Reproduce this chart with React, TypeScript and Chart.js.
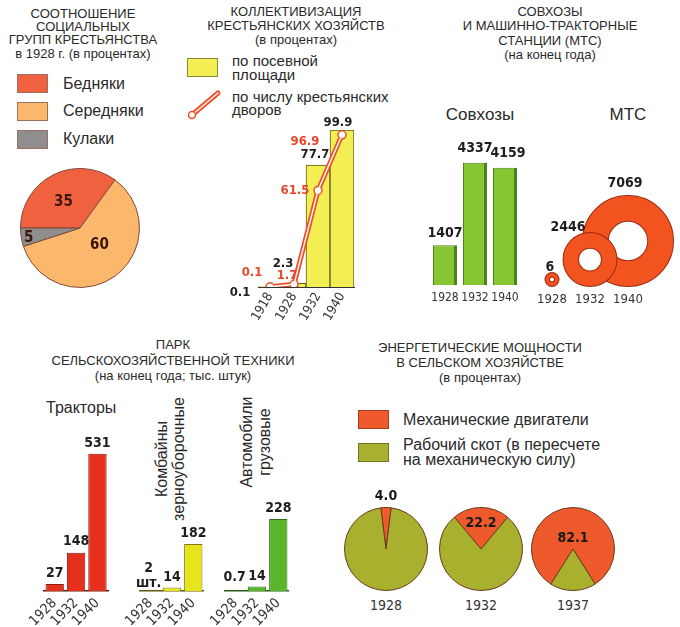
import React, { useEffect, useRef } from 'react';
import { Chart, registerables } from 'chart.js';

Chart.register(...registerables);

const SANS = "'Liberation Sans', Arial, Helvetica, sans-serif";
const NARROW = "'Liberation Sans Narrow', 'Arial Narrow', 'DejaVu Sans Condensed', 'Liberation Sans', sans-serif";

// ---------------- data ----------------
const socialGroups = ['Бедняки', 'Середняки', 'Кулаки'];
const socialShares = [35, 60, 5];

const collSeries = ['по посевной площади', 'по числу крестьянских дворов'];
const collYears = ['1918', '1928', '1932', '1940'];
const collBySownArea = [0.1, 2.3, 77.7, 99.9];
const collByHouseholds = [0.1, 1.7, 61.5, 96.9];

const sovkhozYears = ['1928', '1932', '1940'];
const sovkhozCounts = [1407, 4337, 4159];

const mtsYears = ['1928', '1932', '1940'];
const mtsCounts = [6, 2446, 7069];

const machineYears = ['1928', '1932', '1940'];
const tractors = [27, 148, 531];
const combines = [0.002, 14, 182];
const trucks = [0.7, 14, 228];

const energySeries = ['Механические двигатели', 'Рабочий скот (в пересчете на механическую силу)'];
const energyYears = ['1928', '1932', '1937'];
const energyMechanical = [4.0, 22.2, 82.1];
const energyLivestock = [96.0, 77.8, 17.9];

// ---------------- styles ----------------
const socialColors = ['#f0623f', '#fbb86c', '#8e8e8e'];
const energyColors = ['#ee5a2b', '#a8b02e'];

// ---------------- label plugin ----------------
const labelPlugin = {
  id: 'valueLabels',
  afterDatasetsDraw(chart: any, _a: any, opts: any) {
    const items = (opts && opts.items) || [];
    const ctx = chart.ctx;
    ctx.save();
    ctx.textAlign = 'center';
    ctx.textBaseline = 'middle';
    for (const it of items) {
      const meta = chart.getDatasetMeta(it.ds);
      it.texts.forEach((t: string, i: number) => {
        const el = meta.data[i];
        if (!el || t == null) return;
        let x: number, y: number;
        if (it.mode === 'arc') {
          const p = el.tooltipPosition(false);
          x = p.x; y = p.y;
        } else {
          x = el.x; y = el.y;
        }
        x += it.dx ? it.dx[i] || 0 : 0;
        y += it.dy ? it.dy[i] || 0 : 0;
        ctx.font = it.font;
        ctx.fillStyle = Array.isArray(it.color) ? it.color[i] : it.color;
        const lines = String(t).split('\n');
        const lh = it.lineHeight || 14;
        lines.forEach((ln, k) => ctx.fillText(ln, x, y + (k - (lines.length - 1) / 2) * lh));
      });
    }
    ctx.restore();
  },
};
Chart.register(labelPlugin as any);

const base = (extra: any) => ({
  animation: false,
  responsive: false,
  events: [],
  ...extra,
  plugins: { legend: { display: false }, tooltip: { enabled: false }, ...(extra.plugins || {}) },
});

const noGrid = { display: false, drawTicks: false, tickLength: 0 };

// ---------------- chart configs ----------------
const socialConfig = () => ({
  type: 'pie',
  data: {
    labels: socialGroups,
    datasets: [{ data: socialShares, backgroundColor: socialColors, borderColor: '#80493a', borderWidth: 1 }],
  },
  options: base({
    rotation: 270,
    layout: { padding: 1 },
    plugins: {
      valueLabels: {
        items: [{
          ds: 0, mode: 'arc', texts: socialShares.map(String),
          dx: [-3, 2, -22], dy: [1, -7, 5], font: `bold 15px ${NARROW}`, color: '#3a160c',
        }],
      },
    },
  }),
});

const collConfig = () => ({
  type: 'bar',
  data: {
    labels: collYears,
    datasets: [
      { type: 'line', label: collSeries[1], data: collByHouseholds, borderColor: '#fff4ee', borderWidth: 1.5, pointRadius: 0, order: 0 },
      { type: 'line', label: collSeries[1], data: collByHouseholds, borderColor: '#e9512c', borderWidth: 5, pointRadius: 4, pointBackgroundColor: '#fff', pointBorderColor: '#e9512c', pointBorderWidth: 1.5, order: 1 },
      { type: 'bar', label: collSeries[0], data: collBySownArea, backgroundColor: '#f4ee55', borderColor: '#5f5c1c', borderWidth: 1, categoryPercentage: 1, barPercentage: 1, order: 2 },
    ],
  },
  options: base({
    layout: { autoPadding: false, padding: { left: 28, right: 11, top: 20, bottom: 0 } },
    scales: {
      x: {
        grid: noGrid,
        border: { display: true, color: '#333', width: 1 },
        ticks: { autoSkip: false, minRotation: 60, maxRotation: 60, padding: 3, color: '#333', font: { family: NARROW, size: 13 } },
        afterFit: (s: any) => { s.height = 35; },
      },
      y: { display: false, min: 0, max: 100 },
    },
    plugins: {
      valueLabels: {
        items: [
          { ds: 2, texts: collBySownArea.map((v) => v.toFixed(1)), dx: [-30, -11, -3, -4], dy: [6, -20, -10, -8], font: `bold 13px ${NARROW}`, color: '#1e1e1e' },
          { ds: 1, texts: collByHouseholds.map((v) => v.toFixed(1)), dx: [-18, -7, -23, -37], dy: [-14, -9, 0, 7], font: `bold 13px ${NARROW}`, color: '#e8472a' },
        ],
      },
    },
  }),
});

const sovkhozConfig = () => ({
  type: 'bar',
  data: {
    labels: sovkhozYears,
    datasets: [{
      data: sovkhozCounts, backgroundColor: '#86c633', borderColor: '#4a821d',
      borderWidth: { top: 1, left: 1, right: 3, bottom: 0 }, categoryPercentage: 1, barPercentage: 0.8,
    }],
  },
  options: base({
    layout: { autoPadding: false, padding: { left: 10, right: 10, top: 24, bottom: 0 } },
    scales: {
      x: {
        grid: noGrid, border: { display: false },
        ticks: { autoSkip: false, maxRotation: 0, minRotation: 0, padding: 6, color: '#333', font: { family: NARROW, size: 12 } },
        afterFit: (s: any) => { s.height = 22; },
      },
      y: { display: false, min: 0, max: 5000 },
    },
    plugins: {
      valueLabels: {
        items: [{ ds: 0, texts: sovkhozCounts.map(String), dx: [0, 0, 3], dy: [-12, -14, -14], font: `bold 14px ${NARROW}`, color: '#1e1e1e' }],
      },
    },
  }),
});

// rings: outer radius from area proportional to value
const ringOuter = (v: number) => Math.max(0.535 * Math.sqrt(v), 6.5);
const ringInner = (v: number) => ringOuter(v) * 0.45;
const mtsDrawOrder = [1, 2, 0]; // top-most first
const mtsLabelDx = [-2, -22, -3];
const mtsLabelGap = [6, 6, 13];

const mtsConfig = () => {
  const datasets: any[] = [];
  const items: any[] = [];
  mtsDrawOrder.forEach((i) => {
    const o = ringOuter(mtsCounts[i]);
    const inn = ringInner(mtsCounts[i]);
    const mid = (o + inn) / 2;
    const bw = o - inn;
    const pt = [{ x: mtsYears[i], y: o, r: mid }];
    items.push({ ds: datasets.length, texts: [String(mtsCounts[i])], dx: [mtsLabelDx[i]], dy: [-(o + mtsLabelGap[i])], font: `bold 14px ${NARROW}`, color: '#1e1e1e' });
    datasets.push({ data: pt, backgroundColor: 'rgba(0,0,0,0)', borderColor: '#f2531f', borderWidth: bw, clip: false });
    datasets.push({ data: pt, backgroundColor: '#ffffff', borderColor: '#9c2b12', borderWidth: bw + 2, clip: false });
  });
  return {
    type: 'bubble',
    data: { labels: mtsYears, datasets },
    options: base({
      layout: { autoPadding: false, padding: { left: 32, right: 52, top: 26, bottom: 0 } },
      scales: {
        x: {
          type: 'category', offset: false, grid: noGrid, border: { display: false },
          ticks: { autoSkip: false, maxRotation: 0, minRotation: 0, padding: 6, color: '#333', font: { family: NARROW, size: 13 } },
          afterFit: (s: any) => { s.height = 22; },
        },
        y: { display: false, min: 0, max: 100 },
      },
      plugins: { valueLabels: { items } },
    }),
  };
};

const fmtMachine = (v: number) => (v < 0.01 ? `${Math.round(v * 1000)}\nшт.` : String(v));

const machineConfig = (values: number[], ymax: number, fill: string, edge: string, axis: string, dx: number[], dy: number[], padL: number, padR: number) => () => ({
  type: 'bar',
  data: {
    labels: machineYears,
    datasets: [{ data: values, backgroundColor: fill, borderColor: edge, borderWidth: 1, categoryPercentage: 1, barPercentage: 0.86 }],
  },
  options: base({
    layout: { autoPadding: false, padding: { left: padL, right: padR, top: 10, bottom: 0 } },
    scales: {
      x: {
        grid: noGrid, border: { display: true, color: axis, width: 1.5 },
        ticks: { autoSkip: false, minRotation: 45, maxRotation: 45, padding: 4, color: '#333', font: { family: NARROW, size: 14 } },
        afterFit: (s: any) => { s.height = 36; },
      },
      y: { display: false, min: 0, max: ymax },
    },
    plugins: {
      valueLabels: {
        items: [{ ds: 0, texts: values.map(fmtMachine), dx, dy, font: `bold 14px ${NARROW}`, color: '#1e1e1e', lineHeight: 15 }],
      },
    },
  }),
});

const energyConfig = (i: number) => () => ({
  type: 'pie',
  data: {
    labels: energySeries,
    datasets: [{ data: [energyMechanical[i], energyLivestock[i]], backgroundColor: energyColors, borderColor: '#6b3a1c', borderWidth: 1 }],
  },
  options: base({
    rotation: -energyMechanical[i] * 1.8,
    layout: { padding: { top: 20, left: 4, right: 4, bottom: 2 } },
    plugins: {
      valueLabels: {
        items: [{ ds: 0, mode: 'arc', texts: [energyMechanical[i].toFixed(1), null], dy: [[-32, -4.5, 10.5][i], 0], font: `bold 14px ${NARROW}`, color: '#1a1a1a' }],
      },
    },
  }),
});

// ---------------- components ----------------
function ChartCanvas({ x, y, w, h, make }: any) {
  const ref = useRef<HTMLCanvasElement>(null);
  useEffect(() => {
    const chart = new Chart(ref.current as HTMLCanvasElement, make());
    return () => chart.destroy();
  }, []);
  return <canvas ref={ref} width={w} height={h} style={{ position: 'absolute', left: x, top: y, width: w, height: h }} />;
}

function Txt({ cx, x, top, w = 300, size = 13, lh = 14, align = 'center', color = '#2a2a2a', family = SANS, children, style }: any) {
  const left = align === 'center' ? cx - w / 2 : x;
  return (
    <div style={{ position: 'absolute', left, top, width: w, textAlign: align, fontSize: size, lineHeight: `${lh}px`, color, fontFamily: family, whiteSpace: 'pre-line', ...style }}>
      {children}
    </div>
  );
}

function Swatch({ x, y, w, h, color, border }: any) {
  return <div style={{ position: 'absolute', left: x, top: y, width: w, height: h, background: color, border: `1px solid ${border}`, boxSizing: 'border-box' }} />;
}

const energyCenters = [386, 481, 573];

export default function App() {
  return (
    <div style={{ position: 'fixed', left: 0, top: 0, width: 680, height: 627, background: '#fff', overflow: 'hidden', fontFamily: SANS }}>
      {/* Social groups */}
      <Txt cx={83} top={6.6} w={170} size={13} lh={13.4}>{'СООТНОШЕНИЕ\nСОЦИАЛЬНЫХ\nГРУПП КРЕСТЬЯНСТВА\nв 1928 г. (в процентах)'}</Txt>
      {socialGroups.map((g, i) => (
        <React.Fragment key={g}>
          <Swatch x={17} y={[74, 102, 130][i]} w={31} h={19} color={socialColors[i]} border="#9a7060" />
          <Txt x={63} top={[74, 101, 129][i]} w={120} align="left" size={16} lh={20} color="#2a2a2a">{g}</Txt>
        </React.Fragment>
      ))}
      <ChartCanvas x={19} y={167} w={122} h={122} make={socialConfig} />

      {/* Collectivization */}
      <Txt cx={296} top={5} w={240} size={13} lh={14}>{'КОЛЛЕКТИВИЗАЦИЯ\nКРЕСТЬЯНСКИХ ХОЗЯЙСТВ\n(в процентах)'}</Txt>
      <Swatch x={187} y={58} w={31} h={19} color="#f4ee55" border="#8c8a30" />
      <Txt x={232} top={54} w={200} align="left" size={15} lh={14}>{'по посевной\nплощади'}</Txt>
      <svg style={{ position: 'absolute', left: 186, top: 88 }} width={36} height={32}>
        <line x1={6} y1={27} x2={32} y2={5} stroke="#e9512c" strokeWidth={5} strokeLinecap="round" />
        <line x1={6} y1={27} x2={32} y2={5} stroke="#fff4ee" strokeWidth={1.5} strokeLinecap="round" />
        <circle cx={6} cy={27} r={3.5} fill="#fff" stroke="#e9512c" strokeWidth={1.5} />
      </svg>
      <Txt x={232} top={90} w={220} align="left" size={15} lh={13}>{'по числу крестьянских\nдворов'}</Txt>
      <ChartCanvas x={230} y={110} w={135} h={212} make={collConfig} />

      {/* Sovkhozes and MTS */}
      <Txt cx={550} top={5} w={240} size={13} lh={14.3}>{'СОВХОЗЫ\nИ МАШИННО-ТРАКТОРНЫЕ\nСТАНЦИИ (МТС)\n(на конец года)'}</Txt>
      <Txt cx={480} top={105} w={100} size={17} lh={20}>Совхозы</Txt>
      <Txt cx={628} top={105} w={80} size={17} lh={20}>МТС</Txt>
      <ChartCanvas x={420} y={120} w={110} h={187} make={sovkhozConfig} />
      <ChartCanvas x={520} y={160} w={160} h={148} make={mtsConfig} />

      {/* Machinery */}
      <Txt cx={173} top={337} w={320} size={13} lh={15.5}>{'ПАРК\nСЕЛЬСКОХОЗЯЙСТВЕННОЙ ТЕХНИКИ\n(на конец года; тыс. штук)'}</Txt>
      <Txt x={46} top={398} w={120} align="left" size={16} lh={20}>Тракторы</Txt>
      <div style={{ position: 'absolute', left: 170 - 75, top: 459 - 17, width: 150, height: 34, transform: 'rotate(-90deg)', textAlign: 'center', fontSize: 16, lineHeight: '17px', color: '#2a2a2a', fontFamily: SANS }}>
        Комбайны<br />зерноуборочные
      </div>
      <div style={{ position: 'absolute', left: 256 - 60, top: 442 - 18, width: 120, height: 36, transform: 'rotate(-90deg)', textAlign: 'center', fontSize: 16, lineHeight: '18px', color: '#2a2a2a', fontFamily: SANS }}>
        Автомобили<br />грузовые
      </div>
      <ChartCanvas x={14} y={426} w={100} h={201} make={machineConfig(tractors, 600, '#e5301d', '#8c1d10', '#5a1a10', [0, 0, 0], [-11, -11, -10], 30, 4)} />
      <ChartCanvas x={110} y={426} w={100} h={201} make={machineConfig(combines, 600, '#e7e41c', '#7d7a12', '#5d5a10', [-2, 0, 0], [-15.5, -10, -11], 30, 5)} />
      <ChartCanvas x={195} y={426} w={100} h={201} make={machineConfig(trucks, 490, '#5bb52c', '#2f6e14', '#2d5a14', [-1, 0, 0], [-13, -10, -11], 30, 5)} />

      {/* Energy */}
      <Txt cx={480} top={339.5} w={300} size={13} lh={15}>{'ЭНЕРГЕТИЧЕСКИЕ МОЩНОСТИ\nВ СЕЛЬСКОМ ХОЗЯЙСТВЕ\n(в процентах)'}</Txt>
      <Swatch x={358} y={410} w={31} h={19} color={energyColors[0]} border="#a04020" />
      <Txt x={403} top={410} w={260} align="left" size={16} lh={20}>{energySeries[0]}</Txt>
      <Swatch x={358} y={443} w={31} h={19} color={energyColors[1]} border="#707820" />
      <Txt x={403} top={436.5} w={260} align="left" size={16} lh={15}>{'Рабочий скот (в пересчете\nна механическую силу)'}</Txt>
      {energyYears.map((yr, i) => (
        <React.Fragment key={yr}>
          <ChartCanvas x={energyCenters[i] - 46} y={485} w={92} h={110} make={energyConfig(i)} />
          <Txt cx={energyCenters[i]} top={596} w={60} size={14} lh={18} family={NARROW} color="#333">{yr}</Txt>
        </React.Fragment>
      ))}
    </div>
  );
}
